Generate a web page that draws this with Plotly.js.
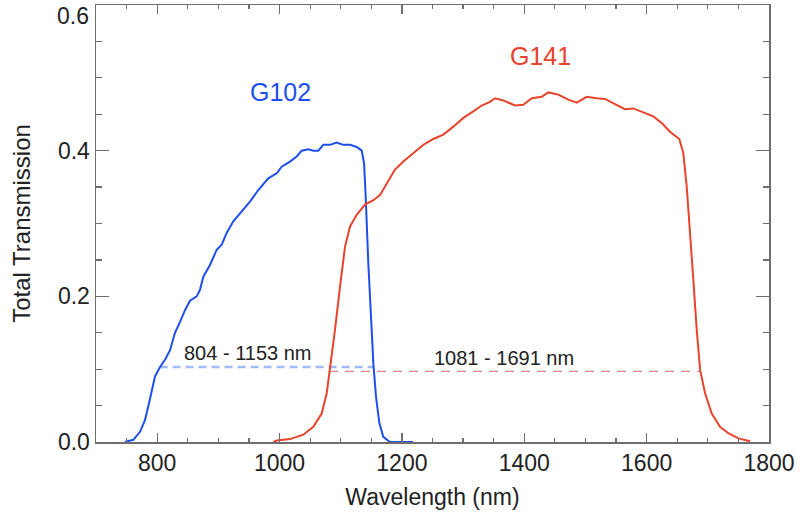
<!DOCTYPE html>
<html>
<head>
<meta charset="utf-8">
<script src="https://cdn.plot.ly/plotly-3.0.1.min.js"></script>
<style>html,body{margin:0;padding:0;background:#fff;}#chart{width:802px;height:516px;}</style>
</head>
<body>
<div id="chart"></div>
<script>
// G102 grism throughput
const g102Wavelength = [747,761,772,780,785.5,791,796.4,804.6,812.8,821,829.1,837.3,845.5,853.6,864.6,870,875.4,886.3,897.3,905.5,913.6,924.4,938.2,951.7,965.3,981.6,995.4,1003.5,1017.1,1028,1036.2,1047,1055.2,1063.4,1071.5,1082.5,1093.4,1104.2,1115.2,1126.1,1134.3,1138.1,1140.8,1145.1,1150.6,1153.3,1157.7,1163.1,1169.6,1180.5,1218];
const g102Transmission = [0,0.003,0.014,0.030,0.049,0.071,0.090,0.103,0.113,0.126,0.150,0.165,0.181,0.194,0.200,0.209,0.227,0.243,0.264,0.271,0.287,0.303,0.316,0.330,0.346,0.362,0.369,0.378,0.385,0.392,0.400,0.402,0.400,0.400,0.408,0.408,0.411,0.408,0.408,0.405,0.400,0.383,0.337,0.245,0.154,0.108,0.062,0.026,0.007,0,0];

// G141 grism throughput
const g141Wavelength = [990,995.4,1017.1,1038.8,1055.2,1068.9,1077.1,1082.5,1090.6,1098.8,1107,1115.2,1126.1,1139.7,1153.3,1164.2,1175.2,1188.7,1202.3,1218.6,1235,1251.3,1267.7,1284,1300.4,1316.7,1330.4,1344,1352.2,1365.7,1384.9,1398.4,1412.2,1428.5,1439.3,1455.6,1472,1485.7,1502,1518.3,1532,1548.3,1564.6,1578.2,1594.5,1610.9,1624.6,1638.2,1653.4,1659.9,1665.5,1670,1676.3,1681.9,1687.4,1695.5,1706.4,1720,1733.5,1749.9,1769];
const g141Transmission = [0,0.002,0.004,0.010,0.021,0.039,0.067,0.099,0.154,0.213,0.268,0.296,0.312,0.326,0.332,0.339,0.355,0.374,0.385,0.397,0.408,0.416,0.422,0.433,0.445,0.454,0.462,0.467,0.472,0.469,0.462,0.463,0.472,0.474,0.480,0.477,0.470,0.466,0.474,0.472,0.471,0.464,0.457,0.458,0.452,0.447,0.438,0.426,0.416,0.397,0.351,0.291,0.223,0.154,0.099,0.067,0.039,0.021,0.012,0.005,0.001];

// Wavelength ranges (dashed markers) and labels
const g102Range = [804, 1153];
const g102RangeLevel = 0.103;
const g141Range = [1081, 1688];
const g141RangeLevel = 0.097;
const g102RangeLabel = "804 - 1153 nm";
const g141RangeLabel = "1081 - 1691 nm";
const seriesNames = ["G102", "G141"];

const xTickValues = [800, 1000, 1200, 1400, 1600, 1800];
const yTickValues = [0.0, 0.2, 0.4, 0.6];
const yTickLabels = ["0.0", "0.2", "0.4", "0.6"];

const BLUE = "#1f4fea";
const RED = "#e8432c";
const FONT = "Liberation Sans, Arial, Helvetica, sans-serif";

const traces = [
  {x: g102Range, y: [g102RangeLevel, g102RangeLevel], mode: "lines",
   line: {color: "#a3baf5", width: 2.4, dash: "8px,5px"}, hoverinfo: "skip", showlegend: false},
  {x: g141Range, y: [g141RangeLevel, g141RangeLevel], mode: "lines",
   line: {color: "#d98787", width: 1.4, dash: "9px,7px"}, hoverinfo: "skip", showlegend: false},
  {x: g102Wavelength, y: g102Transmission, mode: "lines", name: seriesNames[0],
   line: {color: BLUE, width: 2}, showlegend: false},
  {x: g141Wavelength, y: g141Transmission, mode: "lines", name: seriesNames[1],
   line: {color: RED, width: 2}, showlegend: false}
];

const axisCommon = {
  showgrid: false, zeroline: false, showline: true, linecolor: "#6e6e6e", linewidth: 1.5,
  mirror: "allticks", ticks: "inside", tickcolor: "#6e6e6e", tickwidth: 1.3,
  tickfont: {family: FONT, size: 23, color: "#222"}
};

// top y label is drawn just inside the figure edge, like the reference
const yTickTextShown = yTickLabels.map((t, i) => i === yTickLabels.length - 1 ? "" : t);

const layout = {
  width: 802, height: 516,
  margin: {l: 96, r: 33, t: 5, b: 74},
  paper_bgcolor: "#fff", plot_bgcolor: "#fff",
  xaxis: Object.assign({}, axisCommon, {
    range: [700, 1800], tickvals: xTickValues, ticklen: 9,
    minor: {dtick: 50, tick0: 700, ticks: "inside", ticklen: 4, tickcolor: "#6e6e6e", tickwidth: 1.2},
    title: {text: "Wavelength (nm)", font: {family: FONT, size: 23, color: "#222"}, standoff: 14}
  }),
  yaxis: Object.assign({}, axisCommon, {
    range: [0, 0.6], tickvals: yTickValues, ticktext: yTickTextShown, ticklen: 13,
    minor: {dtick: 0.05, tick0: 0, ticks: "inside", ticklen: 6, tickcolor: "#6e6e6e", tickwidth: 1.2},
    title: {text: "Total Transmission", font: {family: FONT, size: 24, color: "#222"}, standoff: 20}
  }),
  annotations: [
    {xref: "paper", x: 0, xanchor: "right", xshift: -5, y: yTickValues[yTickValues.length - 1], yanchor: "top", yshift: 4,
     text: yTickLabels[yTickLabels.length - 1], showarrow: false, font: {family: FONT, size: 23, color: "#222"}},
    {x: 1001, y: 0.480, text: seriesNames[0], showarrow: false, font: {family: FONT, size: 25, color: BLUE}},
    {x: 1427, y: 0.530, text: seriesNames[1], showarrow: false, font: {family: FONT, size: 25, color: RED}},
    {x: 948, y: 0.122, text: g102RangeLabel, showarrow: false, font: {family: FONT, size: 20, color: "#222"}},
    {x: 1367, y: 0.115, text: g141RangeLabel, showarrow: false, font: {family: FONT, size: 20, color: "#222"}}
  ]
};

Plotly.newPlot("chart", traces, layout, {displayModeBar: false, staticPlot: true});
</script>
</body>
</html>
